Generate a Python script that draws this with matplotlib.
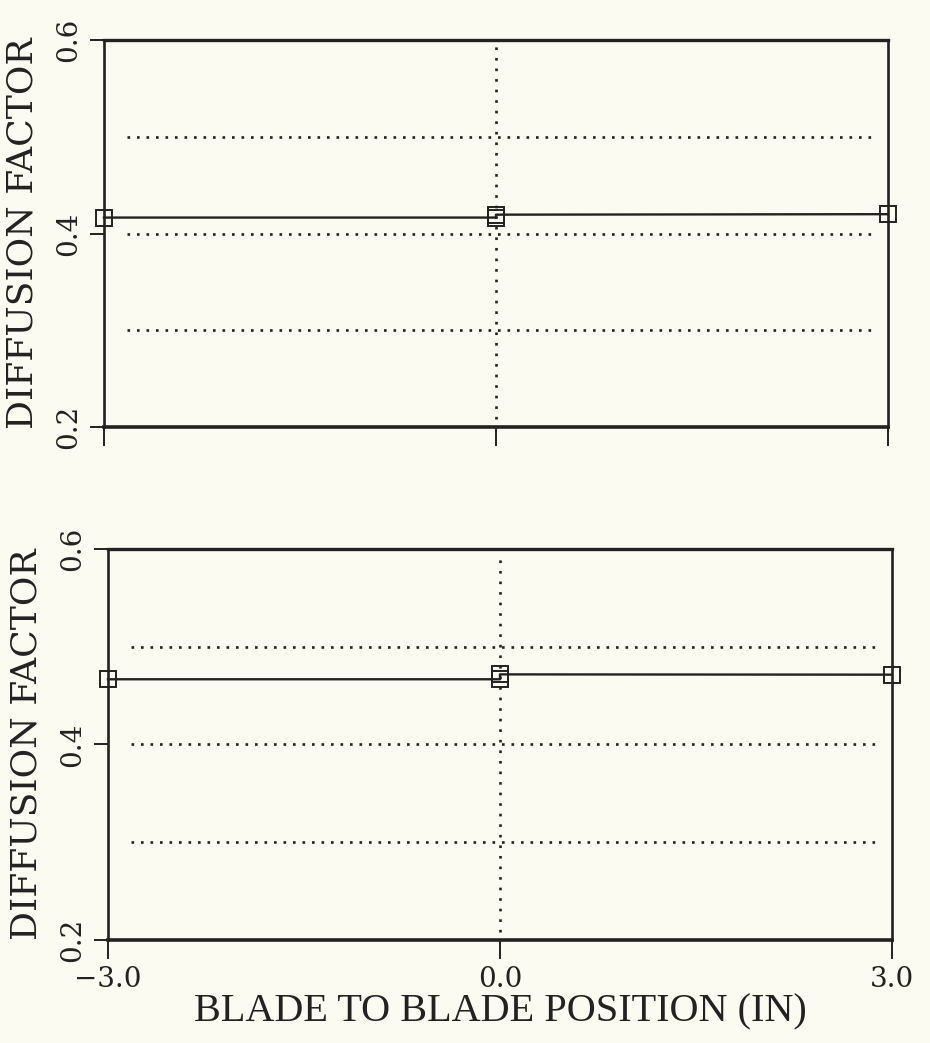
import matplotlib
matplotlib.use("Agg")
import matplotlib.pyplot as plt

# blade-to-blade survey, two stations
pos = [-3.0, 0.0, 0.0, 3.0]
df_upper = [0.4165, 0.4165, 0.4195, 0.4200]
df_lower = [0.4666, 0.4666, 0.4716, 0.4713]

y_ticks = [0.2, 0.4, 0.6]
y_grid = [0.3, 0.4, 0.5]
x_ticks = [-3.0, 0.0, 3.0]
x_ticklabels = ["\u22123.0", "0.0", "3.0"]

BG = "#fbfbf1"
INK = "#222222"

fig = plt.figure(figsize=(9.3, 10.43), dpi=100, facecolor=BG)

def panel(rect, vals, show_xlabels):
    ax = fig.add_axes(rect, facecolor=BG)
    ax.set_xlim(-3, 3)
    ax.set_ylim(0.2, 0.6)
    for y in y_grid:
        ax.axhline(y, xmin=0.03, xmax=0.985, color=INK, ls=(0, (1, 2.6)), lw=1.9, zorder=1)
    ax.axvline(0.0, ymin=0.02, ymax=0.99, color=INK, ls=(0, (1, 3)), lw=1.9, zorder=1)
    ax.plot(pos, vals, color=INK, lw=1.7, marker="s", ms=11, mfc="none",
            mec=INK, mew=1.4, zorder=3, clip_on=False)
    for s in ax.spines.values():
        s.set_color(INK)
    ax.spines["left"].set_linewidth(1.9)
    ax.spines["right"].set_linewidth(1.9)
    ax.spines["top"].set_linewidth(2.4)
    ax.spines["bottom"].set_linewidth(2.6)
    ax.set_yticks(y_ticks)
    ax.set_yticklabels([f"{v:.1f}" for v in y_ticks], rotation=90, va="center",
                       fontsize=20, family="DejaVu Serif", color=INK)
    ax.set_xticks(x_ticks)
    if show_xlabels:
        ax.set_xticklabels(x_ticklabels, fontsize=20, family="DejaVu Serif", color=INK)
    else:
        ax.set_xticklabels([])
    ax.tick_params(axis="x", direction="out", length=14, width=1.4, color=INK, pad=5)
    ax.tick_params(axis="y", direction="out", length=10, width=1.4, color=INK, pad=6)
    ax.set_ylabel("DIFFUSION FACTOR", fontsize=26, family="DejaVu Serif", color=INK)
    ax.yaxis.set_label_coords(-0.082, 0.5)
    return ax

ax1 = panel([0.1118, 0.5906, 0.843, 0.371], df_upper, False)
ax2 = panel([0.1161, 0.0988, 0.843, 0.375], df_lower, True)
ax2.set_xlabel("BLADE TO BLADE POSITION (IN)", fontsize=29,
               family="Liberation Serif", color=INK, labelpad=0)

plt.savefig("out.png", dpi=100, facecolor=BG)
